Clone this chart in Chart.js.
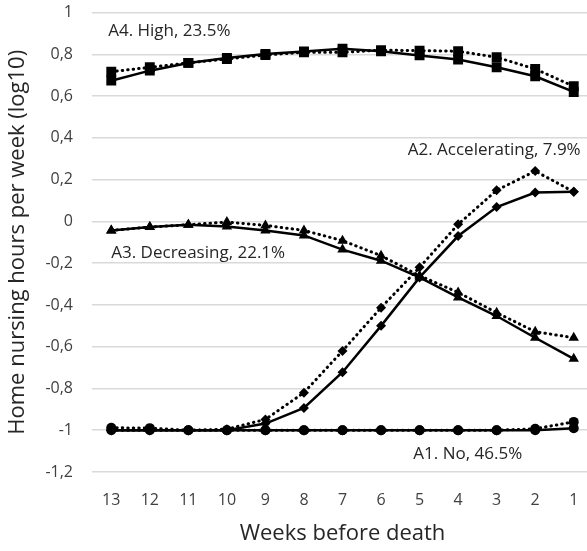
<!DOCTYPE html>
<html lang="en">
<head>
    <meta charset="UTF-8">
    <title>Home nursing hours per week</title>
    <style>
        html, body {
            margin: 0;
            padding: 0;
            background: #ffffff;
            overflow: hidden;
        }
        .wrap {
            width: 600px; /* a little wider than the window, right edge is cut */
            height: 551px;
        }
    </style>
    <script src="https://cdn.jsdelivr.net/npm/chart.js"></script>
</head>
<body>
    <div class="wrap"><canvas id="grafico" width="600" height="551"></canvas></div>
    <script>
        const weeks = ['13', '12', '11', '10', '9', '8', '7', '6', '5', '4', '3', '2', '1'];

        // estimated (solid) and observed (dotted) trajectories
        const highEst = [0.674, 0.722, 0.759, 0.783, 0.802, 0.814, 0.827, 0.815, 0.795, 0.775, 0.738, 0.695, 0.62];
        const highObs = [0.717, 0.738, 0.759, 0.778, 0.797, 0.81, 0.81, 0.82, 0.818, 0.815, 0.786, 0.73, 0.647];
        const accelEst = [-1, -1, -1, -1, -0.968, -0.893, -0.722, -0.5, -0.268, -0.07, 0.069, 0.138, 0.142];
        const accelObs = [-1, -1, -1, -0.995, -0.948, -0.82, -0.62, -0.413, -0.22, -0.014, 0.149, 0.241, 0.142];
        const decrEst = [-0.043, -0.027, -0.016, -0.024, -0.043, -0.067, -0.135, -0.188, -0.268, -0.364, -0.453, -0.557, -0.658];
        const decrObs = [-0.043, -0.027, -0.016, -0.003, -0.019, -0.043, -0.092, -0.164, -0.26, -0.34, -0.437, -0.528, -0.557];
        const noEst = [-1, -1, -1, -1, -1, -1, -1, -1, -1, -1, -1, -1, -0.99];
        const noObs = [-0.988, -0.99, -1, -1, -1, -1, -1, -1, -1, -1, -1, -0.993, -0.96];

        const groupNames = ['A4. High, 23.5%', 'A2. Accelerating, 7.9%', 'A3. Decreasing, 22.1%', 'A1. No, 46.5%'];

        const fonte = '"Open Sans", Lato, sans-serif';

        function serie(data, estilo, pontos) {
            const pontilhado = estilo === 'obs';
            return {
                data: data,
                borderColor: '#000',
                backgroundColor: '#000',
                borderWidth: pontilhado ? 3 : 2.5,
                borderDash: pontilhado ? [0.5, 5] : [],
                borderCapStyle: pontilhado ? 'round' : 'butt',
                pointStyle: pontos.style,
                pointRadius: pontos.r,
                pointBorderWidth: 0,
                pointHoverRadius: pontos.r,
                tension: 0
            };
        }

        const quad = { style: 'rect', r: 7 };
        const losango = { style: 'rectRot', r: 5 };
        const tri = { style: 'triangle', r: 6 };
        const bola = { style: 'circle', r: 5 };

        // text labels next to each group, placed in data coordinates
        const rotulos = {
            id: 'rotulos',
            afterDatasetsDraw(chart) {
                const { ctx, scales: { x, y } } = chart;
                const passo = x.getPixelForValue(1) - x.getPixelForValue(0);
                const itens = [
                    { t: groupNames[0], i: -0.08, v: 0.913, a: 'left' },
                    { t: groupNames[1], i: 12.18, v: 0.34, a: 'right' },
                    { t: groupNames[2], i: 0, v: -0.15, a: 'left' },
                    { t: groupNames[3], i: 9.25, v: -1.115, a: 'center' }
                ];
                ctx.save();
                ctx.fillStyle = '#262626';
                ctx.font = '17px ' + fonte;
                ctx.textBaseline = 'middle';
                itens.forEach(it => {
                    ctx.textAlign = it.a;
                    ctx.fillText(it.t, x.getPixelForValue(0) + it.i * passo, y.getPixelForValue(it.v));
                });
                ctx.restore();
            }
        };

        new Chart(document.getElementById('grafico'), {
            type: 'line',
            data: {
                labels: weeks,
                datasets: [
                    serie(highObs, 'obs', quad),
                    serie(highEst, 'est', quad),
                    serie(accelObs, 'obs', losango),
                    serie(accelEst, 'est', losango),
                    serie(decrObs, 'obs', tri),
                    serie(decrEst, 'est', tri),
                    serie(noObs, 'obs', bola),
                    serie(noEst, 'est', bola)
                ]
            },
            options: {
                responsive: false,
                animation: false,
                layout: { padding: { top: 1.5, right: 0, bottom: 4, left: 0 } },
                plugins: {
                    legend: { display: false },
                    tooltip: { enabled: false }
                },
                scales: {
                    x: {
                        offset: true,
                        afterFit(scale) { scale.height = 75; },
                        grid: { display: false, drawTicks: false },
                        border: { display: false },
                        ticks: { color: '#404040', font: { family: fonte, size: 16 }, padding: 19 },
                        title: {
                            display: true,
                            text: 'Weeks before death',
                            color: '#262626',
                            font: { family: fonte, size: 22 },
                            padding: { top: 4, bottom: 0 }
                        }
                    },
                    y: {
                        min: -1.2,
                        max: 1,
                        afterFit(scale) { scale.width = 92; },
                        // invisible tick marks keep the labels away from the plot
                        grid: { color: '#d9d9d9', lineWidth: 1.5, drawTicks: true, tickLength: 16, tickColor: 'rgba(0,0,0,0)' },
                        border: { display: false },
                        ticks: {
                            stepSize: 0.2,
                            color: '#404040',
                            font: { family: fonte, size: 16 },
                            padding: 3,
                            callback: v => String(Number(v.toFixed(1))).replace('.', ',')
                        },
                        title: {
                            display: true,
                            text: 'Home nursing hours per week (log10)',
                            color: '#262626',
                            font: { family: fonte, size: 22 },
                            padding: { top: 5, bottom: 0 }
                        }
                    }
                }
            },
            plugins: [rotulos]
        });
    </script>
</body>
</html>
